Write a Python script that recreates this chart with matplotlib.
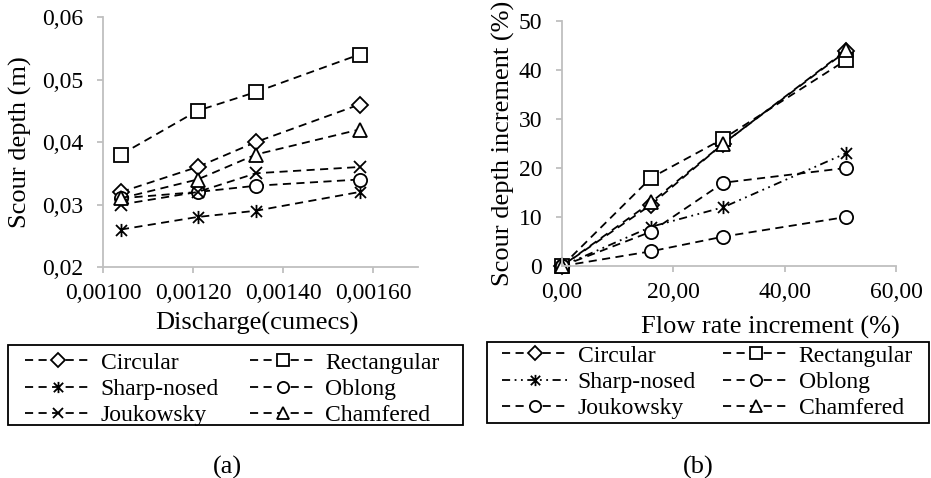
import numpy as np
import matplotlib
matplotlib.use("Agg")
import matplotlib.pyplot as plt
from matplotlib.path import Path
from matplotlib.lines import Line2D
from matplotlib.patches import Rectangle
from matplotlib.ticker import FuncFormatter

plt.rcParams['font.family'] = ['Liberation Serif', 'DejaVu Serif']

# data
discharge = [0.00104, 0.00121, 0.00134, 0.00157]
flow_inc = [0.0, 16.0, 29.0, 51.0]

names = ['Circular', 'Rectangular', 'Sharp-nosed', 'Oblong', 'Joukowsky', 'Chamfered']

depth_circular = [0.032, 0.036, 0.040, 0.046]
depth_rect = [0.038, 0.045, 0.048, 0.054]
depth_sharp = [0.026, 0.028, 0.029, 0.032]
depth_oblong = [0.031, 0.032, 0.033, 0.034]
depth_jouk = [0.030, 0.032, 0.035, 0.036]
depth_chamf = [0.031, 0.034, 0.038, 0.042]

inc_circular = [0, 12.5, 25, 43.8]
inc_rect = [0, 18, 26, 42]
inc_sharp = [0, 8, 12, 23]
inc_oblong = [0, 3, 6, 10]
inc_jouk = [0, 7, 17, 20]
inc_chamf = [0, 13, 25, 44]

# star marker (x with a vertical bar), like the excel one
star = Path([(-1, -1), (1, 1), (-1, 1), (1, -1), (0, -1.2), (0, 1.2)],
            [Path.MOVETO, Path.LINETO, Path.MOVETO, Path.LINETO, Path.MOVETO, Path.LINETO])

dash = (0, (4.5, 3))
ddot = (0, (4.5, 2.5, 1, 2.5, 1, 2.5))

gray = '#BFBFBF'
lw = 1.3


def style(ax):
    for s in ['top', 'right']:
        ax.spines[s].set_visible(False)
    for s in ['left', 'bottom']:
        ax.spines[s].set_color(gray)
        ax.spines[s].set_linewidth(1.3)
    ax.tick_params(axis='both', colors=gray, labelcolor='black', labelsize=17,
                   width=1.3, length=4.3, direction='out')
    ax.tick_params(axis='y', pad=10)
    ax.tick_params(axis='x', pad=7)


def draw(ax, x, series, markers, styles, sizes):
    lines = []
    for y, m, ls, ms, lab in zip(series, markers, styles, sizes, names):
        l, = ax.plot(x, y, color='black', lw=lw, linestyle=ls, marker=m, ms=ms,
                     mfc='white', mec='black', mew=1.3, label=lab, clip_on=False)
        lines.append(l)
    return lines


def proxies(markers, styles, sizes):
    return [Line2D([], [], color='black', lw=lw, linestyle=ls, marker=m, ms=ms * 0.85,
                   mfc='white', mec='black', mew=1.3)
            for m, ls, ms in zip(markers, styles, sizes)]


fig = plt.figure(figsize=(9.31, 4.78), dpi=100)

# (a)
ax1 = fig.add_axes([103/931, 1-267/478, 315/931, 250/478])
style(ax1)
mk1 = ['D', 's', star, 'o', 'x', '^']
ls1 = [dash] * 6
sz1 = [8, 10, 9.5, 9.5, 9, 10]
draw(ax1, discharge,
     [depth_circular, depth_rect, depth_sharp, depth_oblong, depth_jouk, depth_chamf],
     mk1, ls1, sz1)
ax1.set_xlim(0.001, 0.0017)
ax1.set_ylim(0.02, 0.06)
ax1.set_xticks([0.0010, 0.0012, 0.0014, 0.0016])
ax1.set_yticks([0.02, 0.03, 0.04, 0.05, 0.06])
ax1.xaxis.set_major_formatter(FuncFormatter(lambda v, p: ('%.5f' % v).replace('.', ',')))
ax1.yaxis.set_major_formatter(FuncFormatter(lambda v, p: ('%.2f' % v).replace('.', ',')))

# (b)
ax2 = fig.add_axes([562/931, 1-266/478, 334/931, 245/478])
style(ax2)
mk2 = ['D', 's', star, 'o', 'o', '^']
ls2 = [dash, dash, ddot, dash, dash, dash]
sz2 = [8, 10, 9.5, 9.5, 9.5, 10]
# chamfered drawn with shifted dashes so it fills the gaps of circular
draw(ax2, flow_inc,
     [inc_circular, inc_rect, inc_sharp, inc_oblong, inc_jouk, inc_chamf],
     mk2, ls2[:5] + [(3.5, (4.5, 3))], sz2)
ax2.set_xlim(0, 60)
ax2.set_ylim(0, 50)
ax2.set_xticks([0, 20, 40, 60])
ax2.set_yticks([0, 10, 20, 30, 40, 50])
ax2.xaxis.set_major_formatter(FuncFormatter(lambda v, p: ('%.2f' % v).replace('.', ',')))

# axis titles
fig.text(20/931, 1-142/478, 'Scour depth (m)', rotation=90, ha='center', va='center', fontsize=19)
fig.text(257/931, 1-323/478, 'Discharge(cumecs)', ha='center', va='center', fontsize=19)
fig.text(503/931, 1-143/478, 'Scour depth increment (%)', rotation=90, ha='center', va='center', fontsize=19)
fig.text(770/931, 1-327/478, 'Flow rate increment (%)', ha='center', va='center', fontsize=19)

fig.text(227/931, 1-467/478, '(a)', ha='center', va='center', fontsize=19)
fig.text(698/931, 1-467/478, '(b)', ha='center', va='center', fontsize=19)

# legends, row order like excel; frame drawn as a separate box
order = [0, 2, 4, 1, 3, 5]
legs = [(proxies(mk1, ls1, sz1), (25, 352), 1.3, (8, 345, 455, 80)),
        (proxies(mk2, ls2, sz2), (502, 345), 1.15, (487, 342, 442, 81))]
for hs, (lx, ly), csp, (bx, by, bw, bh) in legs:
    fig.legend([hs[i] for i in order], [names[i] for i in order], ncol=2,
               loc='upper left', bbox_to_anchor=(lx/931, 1-ly/478),
               borderaxespad=0, borderpad=0, frameon=False,
               fontsize=17, handlelength=2.8, handletextpad=0.4,
               labelspacing=0.2, columnspacing=csp)
    fig.patches.append(Rectangle((bx/931, 1-(by+bh)/478), bw/931, bh/478,
                                 transform=fig.transFigure, fill=False,
                                 ec='black', lw=1.3))

fig.savefig('out.png', dpi=100)
